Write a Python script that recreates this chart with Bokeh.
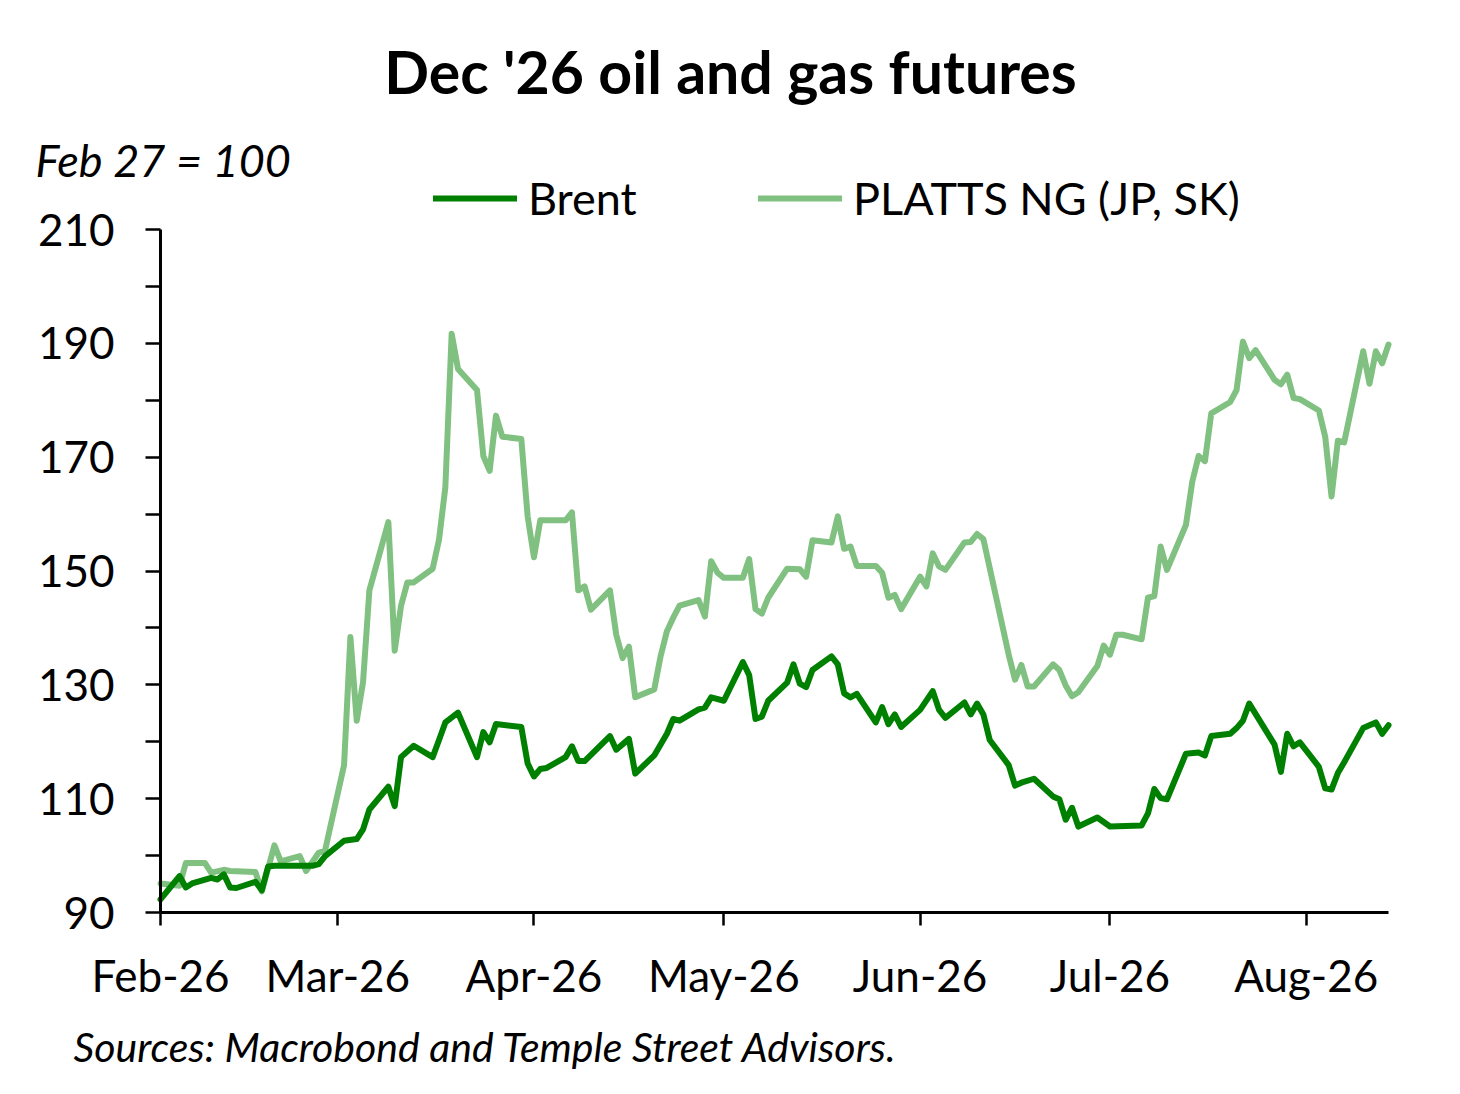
import pandas as pd
from bokeh.plotting import figure
from bokeh.models import Range1d, FixedTicker, Label, Legend, LegendItem, DatetimeTickFormatter
from bokeh.embed import file_html
from bokeh.resources import INLINE

# ---------------- data ----------------
brent_dates = [
    "2026-02-01", "2026-02-04", "2026-02-05", "2026-02-06", "2026-02-09", "2026-02-10",
    "2026-02-11", "2026-02-12", "2026-02-13", "2026-02-16", "2026-02-17", "2026-02-18",
    "2026-02-19", "2026-02-25", "2026-02-26", "2026-02-27", "2026-03-02", "2026-03-04",
    "2026-03-05", "2026-03-06", "2026-03-09", "2026-03-10", "2026-03-11", "2026-03-13",
    "2026-03-16", "2026-03-17", "2026-03-18", "2026-03-20", "2026-03-23", "2026-03-24",
    "2026-03-25", "2026-03-26", "2026-03-30", "2026-03-31", "2026-04-01", "2026-04-02",
    "2026-04-03", "2026-04-06", "2026-04-07", "2026-04-08", "2026-04-09", "2026-04-13",
    "2026-04-14", "2026-04-16", "2026-04-17", "2026-04-20", "2026-04-22", "2026-04-23",
    "2026-04-24", "2026-04-27", "2026-04-28", "2026-04-29", "2026-05-01", "2026-05-04",
    "2026-05-05", "2026-05-06", "2026-05-07", "2026-05-08", "2026-05-11", "2026-05-12",
    "2026-05-13", "2026-05-14", "2026-05-15", "2026-05-18", "2026-05-19", "2026-05-20",
    "2026-05-21", "2026-05-22", "2026-05-25", "2026-05-26", "2026-05-27", "2026-05-28",
    "2026-05-29", "2026-06-01", "2026-06-03", "2026-06-04", "2026-06-05", "2026-06-08",
    "2026-06-09", "2026-06-10", "2026-06-11", "2026-06-12", "2026-06-15", "2026-06-16",
    "2026-06-17", "2026-06-19", "2026-06-22", "2026-06-23", "2026-06-24", "2026-06-25",
    "2026-06-26", "2026-06-29", "2026-07-01", "2026-07-06", "2026-07-07", "2026-07-08",
    "2026-07-09", "2026-07-10", "2026-07-13", "2026-07-15", "2026-07-16", "2026-07-17",
    "2026-07-20", "2026-07-21", "2026-07-22", "2026-07-23", "2026-07-27", "2026-07-28",
    "2026-07-29", "2026-07-30", "2026-07-31", "2026-08-03", "2026-08-04", "2026-08-05",
    "2026-08-06", "2026-08-07", "2026-08-10", "2026-08-12", "2026-08-13", "2026-08-14",
]
brent_values = [
    92.3, 96.4, 94.4, 95.1, 96.1, 95.8,
    96.7, 94.4, 94.3, 95.4, 93.9, 98.1,
    98.2, 98.2, 98.5, 99.9, 102.6, 102.9,
    104.6, 108.1, 112.1, 108.7, 117.3, 119.3,
    117.3, 120.3, 123.4, 125.1, 117.3, 121.7,
    119.9, 123.1, 122.6, 116.2, 113.9, 115.2,
    115.4, 117.3, 119.2, 116.6, 116.6, 121.0,
    118.6, 120.5, 114.4, 117.6, 121.4, 124.0,
    123.7, 125.7, 126.0, 127.8, 127.2, 134.0,
    131.7, 124.0, 124.4, 127.2, 130.4, 133.6,
    130.2, 129.6, 132.6, 135.0, 133.6, 128.5,
    127.8, 128.4, 123.4, 126.1, 123.1, 124.8,
    122.6, 125.6, 128.9, 125.6, 124.2, 126.9,
    124.8, 126.7, 124.8, 120.3, 115.9, 112.3,
    112.8, 113.5, 110.4, 109.9, 106.3, 108.4,
    105.1, 106.7, 105.1, 105.3, 107.4, 111.7,
    110.1, 109.9, 117.9, 118.1, 117.6, 121.0,
    121.4, 122.4, 123.7, 126.7, 119.5, 114.7,
    121.4, 119.2, 119.9, 115.6, 111.8, 111.6,
    114.5, 116.4, 122.4, 123.4, 121.4, 122.9,
]

platts_dates = [
    "2026-02-01", "2026-02-04", "2026-02-05", "2026-02-08", "2026-02-09", "2026-02-11",
    "2026-02-12", "2026-02-16", "2026-02-17", "2026-02-19", "2026-02-20", "2026-02-23",
    "2026-02-24", "2026-02-26", "2026-02-27", "2026-03-02", "2026-03-03", "2026-03-04",
    "2026-03-05", "2026-03-06", "2026-03-09", "2026-03-10", "2026-03-11", "2026-03-12",
    "2026-03-13", "2026-03-16", "2026-03-17", "2026-03-18", "2026-03-19", "2026-03-20",
    "2026-03-23", "2026-03-24", "2026-03-25", "2026-03-26", "2026-03-27", "2026-03-30",
    "2026-03-31", "2026-04-01", "2026-04-02", "2026-04-06", "2026-04-07", "2026-04-08",
    "2026-04-09", "2026-04-10", "2026-04-13", "2026-04-14", "2026-04-15", "2026-04-16",
    "2026-04-17", "2026-04-20", "2026-04-21", "2026-04-22", "2026-04-23", "2026-04-24",
    "2026-04-27", "2026-04-28", "2026-04-29", "2026-04-30", "2026-05-01", "2026-05-04",
    "2026-05-05", "2026-05-06", "2026-05-07", "2026-05-08", "2026-05-11", "2026-05-13",
    "2026-05-14", "2026-05-15", "2026-05-18", "2026-05-19", "2026-05-20", "2026-05-21",
    "2026-05-22", "2026-05-25", "2026-05-26", "2026-05-27", "2026-05-28", "2026-05-29",
    "2026-06-01", "2026-06-02", "2026-06-03", "2026-06-04", "2026-06-05", "2026-06-08",
    "2026-06-09", "2026-06-10", "2026-06-11", "2026-06-15", "2026-06-16", "2026-06-17",
    "2026-06-18", "2026-06-19", "2026-06-22", "2026-06-23", "2026-06-24", "2026-06-25",
    "2026-06-26", "2026-06-29", "2026-06-30", "2026-07-01", "2026-07-02", "2026-07-03",
    "2026-07-06", "2026-07-07", "2026-07-08", "2026-07-09", "2026-07-10", "2026-07-13",
    "2026-07-14", "2026-07-15", "2026-07-16", "2026-07-17", "2026-07-20", "2026-07-21",
    "2026-07-22", "2026-07-23", "2026-07-24", "2026-07-27", "2026-07-28", "2026-07-29",
    "2026-07-30", "2026-07-31", "2026-08-03", "2026-08-04", "2026-08-05", "2026-08-06",
    "2026-08-07", "2026-08-10", "2026-08-11", "2026-08-12", "2026-08-13", "2026-08-14",
]
platts_values = [
    95.1, 94.7, 98.7, 98.7, 97.0, 97.5,
    97.3, 97.1, 93.7, 101.8, 99.0, 99.9,
    97.3, 100.5, 100.9, 115.9, 138.4, 123.7,
    130.5, 146.6, 158.6, 136.0, 143.9, 148.0,
    148.0, 150.4, 155.5, 164.7, 191.7, 185.5,
    181.8, 170.2, 167.6, 177.3, 173.6, 173.2,
    159.6, 152.4, 158.9, 158.9, 160.3, 146.6,
    147.3, 143.2, 146.6, 138.8, 134.7, 136.7,
    127.8, 129.2, 135.0, 139.4, 141.8, 143.9,
    144.9, 142.0, 151.7, 149.7, 148.8, 148.8,
    152.1, 143.3, 142.5, 145.3, 150.4, 150.3,
    149.0, 155.4, 155.0, 159.6, 153.9, 154.3,
    150.9, 150.9, 149.7, 145.3, 145.8, 143.3,
    149.0, 147.3, 153.1, 150.8, 150.2, 155.0,
    155.1, 156.5, 155.6, 135.3, 130.9, 133.5,
    129.7, 129.7, 133.6, 132.6, 129.9, 128.0,
    128.7, 133.3, 136.9, 135.3, 138.8, 138.8,
    138.0, 145.3, 145.6, 154.3, 150.2, 158.1,
    165.7, 170.2, 169.3, 177.7, 179.7, 181.8,
    190.3, 187.4, 188.8, 183.6, 182.8, 184.5,
    180.4, 180.2, 178.2, 173.6, 163.1, 172.9,
    172.6, 188.6, 182.9, 188.6, 186.5, 189.8,
]

month_ticks = ["2026-02-01", "2026-03-01", "2026-04-01", "2026-05-01",
               "2026-06-01", "2026-07-01", "2026-08-01"]
month_labels = ["Feb-26", "Mar-26", "Apr-26", "May-26", "Jun-26", "Jul-26", "Aug-26"]
y_major_ticks = [90, 110, 130, 150, 170, 190, 210]
y_minor_ticks = [100, 120, 140, 160, 180, 200]
x_start, x_end = "2026-02-01", "2026-08-14"
y_start, y_end = 90, 210

series_names = ["Brent", "PLATTS NG (JP, SK)"]
series_colors = ["#008000", "#80C080"]

title_text = "Dec '26 oil and gas futures"
subtitle_text = "Feb 27 = 100"
source_text = "Sources: Macrobond and Temple Street Advisors."

FONT = "Lato"

# ---------------- layout geometry (canvas pixels) ----------------
W, H = 1452, 1086
AX_LEFT, AX_RIGHT = 160, 1388      # pixel span of the x axis
AX_TOP, AX_BOTTOM = 229, 912       # pixel span of the y axis

t0, t1 = pd.Timestamp(x_start), pd.Timestamp(x_end)
span_days = (t1 - t0) / pd.Timedelta(days=1)
px_per_day = (AX_RIGHT - AX_LEFT) / span_days
px_per_unit = (AX_BOTTOM - AX_TOP) / (y_end - y_start)
view_x0 = t0 - pd.Timedelta(days=AX_LEFT / px_per_day)
view_x1 = t1 + pd.Timedelta(days=(W - AX_RIGHT) / px_per_day)
view_y0 = y_start - (H - AX_BOTTOM) / px_per_unit
view_y1 = y_start + AX_BOTTOM / px_per_unit


def ms(t):
    return pd.Timestamp(t).value / 1e6


# ---------------- figure ----------------
p = figure(width=W, height=H, x_axis_type="datetime",
           output_backend="svg", toolbar_location=None,
           min_border_left=0, min_border_right=0,
           min_border_top=0, min_border_bottom=0)
p.x_range = Range1d(view_x0, view_x1)
p.y_range = Range1d(view_y0, view_y1)

p.xgrid.visible = False
p.ygrid.visible = False
p.outline_line_color = None
p.background_fill_color = "white"
p.border_fill_color = "white"

bx = pd.to_datetime(brent_dates)
px_ = pd.to_datetime(platts_dates)

r_platts = p.line(px_, platts_values, line_color=series_colors[1], line_width=6,
                  line_cap="round", line_join="round")
r_brent = p.line(bx, brent_values, line_color=series_colors[0], line_width=6,
                 line_cap="round", line_join="round")

# x axis, fixed at y = 90 and bounded to the data span
tick_ms = [ms(t) for t in month_ticks]
p.xaxis.fixed_location = y_start
p.xaxis.bounds = (ms(t0), ms(t1))
p.xaxis.ticker = FixedTicker(ticks=tick_ms)
p.xaxis.formatter = DatetimeTickFormatter(
    months="%b-%y", days="%b-%y", years="%b-%y", hours="%b-%y",
    minutes="%b-%y", seconds="%b-%y", milliseconds="%b-%y", microseconds="%b-%y")
p.xaxis.major_label_overrides = {v: lab for v, lab in zip(tick_ms, month_labels)}
p.xaxis.major_tick_in = 0
p.xaxis.major_tick_out = 13
p.xaxis.minor_tick_line_color = None
p.xaxis.major_label_standoff = 23

# y axis, fixed at the first date and bounded to 90..210
p.yaxis.fixed_location = ms(t0)
p.yaxis.bounds = (y_start, y_end)
p.yaxis.ticker = FixedTicker(ticks=y_major_ticks, minor_ticks=y_minor_ticks)
p.yaxis.major_tick_in = 0
p.yaxis.major_tick_out = 15
p.yaxis.minor_tick_in = 0
p.yaxis.minor_tick_out = 15
p.yaxis.major_label_standoff = 31

for ax in (p.xaxis, p.yaxis):
    ax.axis_line_width = 3
    ax.axis_line_color = "black"
    ax.major_tick_line_width = 2.5
    ax.major_tick_line_color = "black"
    ax.minor_tick_line_width = 2.5
    ax.major_label_text_font = FONT
    ax.major_label_text_font_size = "44px"
    ax.major_label_text_color = "black"
p.yaxis.minor_tick_line_color = "black"

# legends (frame covers the whole canvas: screen coords = canvas coords, y up)
leg1 = Legend(items=[LegendItem(label=series_names[0], renderers=[r_brent])],
              location=(433, H - 225))
leg2 = Legend(items=[LegendItem(label=series_names[1], renderers=[r_platts])],
              location=(758, H - 225))
for lg in (leg1, leg2):
    lg.orientation = "horizontal"
    lg.glyph_width = 84
    lg.glyph_height = 50
    lg.label_height = 50
    lg.label_standoff = 11
    lg.padding = 0
    lg.spacing = 0
    lg.margin = 0
    lg.border_line_color = None
    lg.background_fill_alpha = 0
    lg.label_text_font = FONT
    lg.label_text_font_size = "45px"
    lg.label_text_color = "black"
    p.add_layout(lg)

# texts
p.add_layout(Label(x=730, y=H - 71, x_units="screen", y_units="screen", text=title_text,
                   text_align="center", text_baseline="alphabetic", text_font=FONT,
                   text_font_style="bold", text_font_size="59px", text_color="black"))
p.add_layout(Label(x=35, y=H - 159, x_units="screen", y_units="screen", text=subtitle_text,
                   text_align="left", text_baseline="alphabetic", text_font=FONT,
                   text_font_style="italic", text_font_size="45px", text_color="black"))
p.add_layout(Label(x=73, y=H - 1046, x_units="screen", y_units="screen", text=source_text,
                   text_align="left", text_baseline="alphabetic", text_font=FONT,
                   text_font_style="italic", text_font_size="41px", text_color="black"))

open("out.html", "w").write(file_html(p, INLINE))
